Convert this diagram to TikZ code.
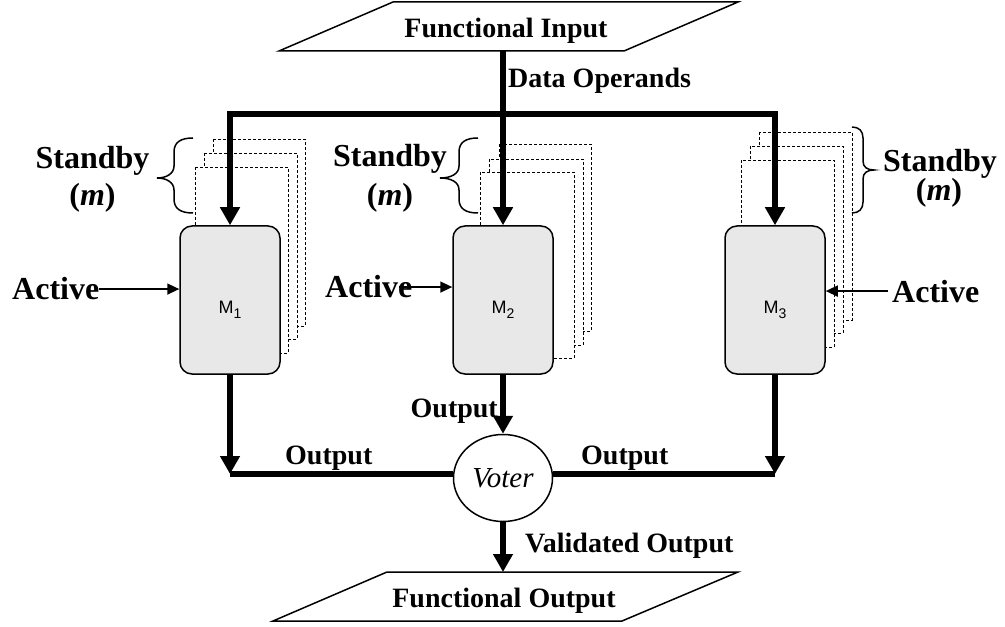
\documentclass[tikz,border=0pt]{standalone}
\usepackage{fontspec}
\setmainfont{Liberation Serif}
\newfontfamily\sansf{Liberation Sans}
\usetikzlibrary{arrows.meta,shapes.geometric}
\definecolor{boxgray}{RGB}{232,232,232}
\begin{document}
\begin{tikzpicture}[x=1bp,y=-1bp,
  bus/.style={line width=5.5bp},
  bigtip/.style={-{Triangle[length=18bp,width=19bp]}},
  actarrow/.style={line width=1.5bp,-{Triangle[length=12bp,width=11bp]}},
  module/.style={draw,line width=1.5bp,fill=boxgray,rounded corners=12bp,minimum width=100bp,minimum height=148bp,inner sep=0},
  standby/.style={draw,dash pattern=on 3bp off 2bp,line width=0.9bp,fill=white},
  bracepath/.style={line width=1.5bp},
  lbl/.style={font=\fontsize{28bp}{30bp}\selectfont\bfseries,inner sep=0},
  biglbl/.style={font=\fontsize{32bp}{34bp}\selectfont\bfseries,inner sep=0},
  mlabel/.style={font=\sansf\fontsize{18bp}{20bp}\selectfont,inner sep=0,anchor=base},
  io/.style={draw,line width=1.5bp,fill=white}
]
\useasboundingbox (0,0) rectangle (1005,627);

% standby (dashed) copies
\draw[standby] (213,139) rectangle (305,326);
\draw[standby] (204,153) rectangle (297,339);
\draw[standby] (195,167) rectangle (288,353);
\draw[standby] (499,144) rectangle (591,331);
\draw[standby] (489,159) rectangle (583,345);
\draw[standby] (480,172) rectangle (574,358);
\draw[standby] (759,132) rectangle (852,320);
\draw[standby] (750,146) rectangle (843,333);
\draw[standby] (741,160) rectangle (834,347);

% braces
\draw[bracepath] (193,138) .. controls (181,138) and (174,142) .. (174,152) -- (174,166)
  .. controls (174,174) and (166,178) .. (157,178)
  .. controls (166,178) and (174,182) .. (174,190) -- (174,199)
  .. controls (174,209) and (181,213) .. (193,213);
\draw[bracepath] (478,138) .. controls (466,138) and (459,142) .. (459,152) -- (459,166)
  .. controls (459,174) and (451,178) .. (440,178)
  .. controls (451,178) and (459,182) .. (459,190) -- (459,199)
  .. controls (459,209) and (466,213) .. (478,213);
\draw[bracepath] (852,127) .. controls (859,127) and (863,131) .. (863,138) -- (863,161)
  .. controls (863,167) and (867,170) .. (874,170)
  .. controls (867,170) and (863,173) .. (863,179) -- (863,202)
  .. controls (863,209) and (859,213) .. (852,213);

% modules
\node[module] (m1) at (230,300) {};
\node[module] (m2) at (503,300) {};
\node[module] (m3) at (775,300) {};
\node[mlabel] (l1) at (230,313) {M\raisebox{-5bp}{\fontsize{14bp}{14bp}\selectfont 1}};
\node[mlabel] (l2) at (503,313) {M\raisebox{-5bp}{\fontsize{14bp}{14bp}\selectfont 2}};
\node[mlabel] (l3) at (775,313) {M\raisebox{-5bp}{\fontsize{14bp}{14bp}\selectfont 3}};

% input / output parallelograms
\draw[io] (393,2) -- (738,2) -- (624,51) -- (279,51) -- cycle;
\node[lbl,anchor=base] (fin) at (506,38) {Functional Input};
\coordinate (finB) at (503,51);
\draw[io] (387,572) -- (738,572) -- (622,621) -- (273,621) -- cycle;
\node[lbl,anchor=base] (fout) at (504,607) {Functional Output};
\coordinate (foutT) at (503,572);

% voter
\node[ellipse,draw,line width=1.5bp,fill=white,minimum width=99bp,minimum height=87bp,inner sep=0,
  font=\fontsize{29bp}{30bp}\selectfont\itshape] (voter) at (503,478) {Voter};

% data bus
\coordinate (jM) at (503,114);
\draw[bus,bigtip] (finB) -- (m2.north);
\draw[bus,bigtip] (jM) -| (m1.north);
\draw[bus,bigtip] (jM) -| (m3.north);
\node[lbl,anchor=base west] (dop) at (508,88) {Data Operands};

% outputs
\coordinate (bL) at (230,474);
\coordinate (bR) at (775,474);
\draw[bus,bigtip] (m1.south) -- (bL);
\draw[bus,bigtip] (m3.south) -- (bR);
\draw[bus] (bL) -- (bL -| voter.west);
\draw[bus] (bR) -- (bR -| voter.east);
\draw[bus,bigtip] (m2.south) -- (voter.north);
\draw[bus,bigtip] (voter.south) -- (foutT);
\node[lbl,anchor=base west] (o1) at (285,464) {Output};
\node[lbl,anchor=base west] (o3) at (581,464) {Output};
\node[lbl,anchor=base east] (o2) at (498,417) {Output};
\node[lbl,anchor=base west] (vo) at (525,552) {Validated Output};

% standby labels
\node[biglbl,anchor=base] (s1) at (92.5,169) {Standby};
\node[biglbl,anchor=base] (p1) at (92.5,206) {(\textit{m})};
\node[biglbl,anchor=base] (s2) at (390,167) {Standby};
\node[biglbl,anchor=base] (p2) at (390,206) {(\textit{m})};
\node[biglbl,anchor=base] (s3) at (940,172) {Standby};
\node[biglbl,anchor=base] (p3) at (939,201) {(\textit{m})};

% active labels
\node[biglbl,anchor=base west] (a1) at (12,300) {Active};
\node[biglbl,anchor=base west] (a2) at (325,298) {Active};
\node[biglbl,anchor=base west] (a3) at (892,302) {Active};
\draw[actarrow] (a1.east) -- (a1.east -| m1.west);
\draw[actarrow] ([xshift=-13bp]a2.east) -- (a2.east -| m2.west);
\draw[actarrow] ([xshift=-4bp]a3.west) -- (a3.west -| m3.east);
\end{tikzpicture}
\end{document}
